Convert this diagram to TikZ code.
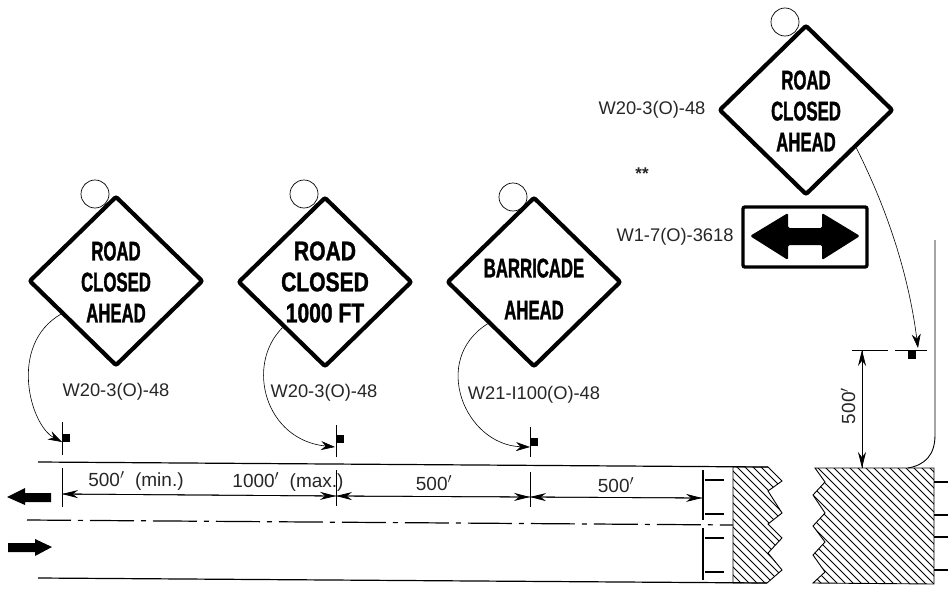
\documentclass[tikz,border=0pt]{standalone}
\usepackage{fontspec}
\usepackage{tikz}
\usetikzlibrary{arrows.meta,shapes.geometric}
\setmainfont{Liberation Sans}
\newfontfamily\signfont[FakeStretch=0.62,FakeBold=1.2]{Liberation Sans}
\newfontfamily\wideroadfont[FakeStretch=0.78,FakeBold=1.2]{Liberation Sans}
\tikzset{
  signbox/.style={diamond, draw=black, fill=white, line width=4.2pt, rounded corners=2pt, inner sep=0pt,
    minimum width=174pt, minimum height=170pt},
  hookcircle/.style={circle, draw=black, line width=0.7pt, inner sep=0pt, minimum size=28pt},
  signtext/.style={align=center, font=\signfont\bfseries\fontsize{27}{31}\selectfont, inner sep=0pt},
  codelabel/.style={font=\fontsize{18.3}{20}\selectfont, inner sep=0pt, text=black!85},
  dimlabel/.style={font=\fontsize{19}{20}\selectfont, inner sep=0pt, text=black!85},
  postbox/.style={rectangle, fill=black, inner sep=0pt, minimum size=8.5pt},
  pointer/.style={line width=0.6pt, -{Stealth[length=14pt,width=9pt]}},
  dimline/.style={line width=0.8pt, -{Stealth[length=16pt,width=8pt]}},
  tickline/.style={line width=0.8pt},
  roadline/.style={line width=1.2pt}
}
\begin{document}
\begin{tikzpicture}[x=1pt, y=-1pt]
    \useasboundingbox (0,0) rectangle (948,589);
    % Hook circles
    \node[hookcircle] (hook1) at (95,194) {};
    \node[hookcircle] (hook2) at (304,194) {};
    \node[hookcircle] (hook3) at (513,197) {};
    \node[hookcircle] (hook4) at (785,22) {};
    % Signs
    \node[signbox] (sign1) at (116,281) {};
    \node[signbox] (sign2) at (325,282) {};
    \node[signbox] (sign3) at (534,282) {};
    \node[signbox] (sign4) at (806,110) {};
    \node[signtext] (text1) at (116,282) {ROAD\\CLOSED\\AHEAD};
    \node[signtext, font=\wideroadfont\bfseries\fontsize{27}{31}\selectfont] (text2) at (325,282) {ROAD\\CLOSED\\1000 FT};
    \node[signtext, font=\signfont\bfseries\fontsize{27}{42}\selectfont] (text3) at (534,289) {BARRICADE\\AHEAD};
    \node[signtext] (text4) at (806,111) {ROAD\\CLOSED\\AHEAD};
    % Arrow plate
    \node[draw=black, line width=3.4pt, rounded corners=2pt, minimum width=124pt, minimum height=60pt, inner sep=0pt] (plate) at (805,237) {};
    \fill[rounded corners=1.5pt] (750,236) -- (788,213) -- (788,228) -- (822,228) -- (822,213) -- (860,236)
      -- (822,260) -- (822,245) -- (788,245) -- (788,260) -- cycle;
    % Code labels
    \node[codelabel] (code1) at (116,392) {W20-3(O)-48};
    \node[codelabel] (code2) at (324,393) {W20-3(O)-48};
    \node[codelabel] (code3) at (534,395) {W21-I100(O)-48};
    \node[codelabel] (code4) at (652,110) {W20-3(O)-48};
    \node[codelabel] (code5) at (675,237) {W1-7(O)-3618};
    \node[codelabel, font=\bfseries\fontsize{17}{20}\selectfont] (stars) at (642,174) {**};
    % Posts
    \node[postbox] (post1) at (66,438) {};
    \node[postbox] (post2) at (340,439) {};
    \node[postbox] (post3) at (534,442) {};
    \node[postbox] (post4) at (912,355) {};
    \coordinate (tip1) at (62,442);
    \coordinate (tip2) at (335,447);
    \coordinate (tip3) at (530,447);
    \coordinate (tip4) at (918,348);
    \draw[pointer] (sign1.211) .. controls (8,345) and (30,425) .. (tip1);
    \draw[pointer] (sign2.227) .. controls (245,365) and (265,440) .. (tip2);
    \draw[pointer] (sign3.222) .. controls (430,360) and (465,445) .. (tip3);
    \draw[pointer] (sign4.323) .. controls (885,205) and (908,270) .. (tip4);
    % Road
    \draw[roadline] (38,462) -- (768,467);
    \draw[roadline] (38,578) -- (767,583);
    \draw[roadline, dash pattern=on 44pt off 7pt on 5pt off 7pt] (27,520) -- (733,525);
    \fill (7,497) -- (25,488) -- (25,493) -- (51,493) -- (51,502) -- (25,502) -- (25,505) -- cycle;
    \fill (52,547) -- (35,539) -- (35,543) -- (8,543) -- (8,552) -- (35,552) -- (35,556) -- cycle;
    % Ticks
    \draw[tickline] (62,422) -- (62,455);
    \draw[tickline] (62,468) -- (62,507);
    \draw[tickline] (336,425) -- (336,457);
    \draw[tickline] (336,470) -- (336,506);
    \draw[tickline] (530,427) -- (530,457);
    \draw[tickline] (530,472) -- (530,507);
    % Dimensions
    \coordinate (dima) at (62,494);
    \coordinate (dimb) at (336,496);
    \coordinate (dimc) at (530,497);
    \coordinate (dimd) at (702,498);
    \draw[dimline] (dimb) -- (dima);
    \draw[dimline] (dima) -- (dimb);
    \draw[dimline] (dimc) -- (dimb);
    \draw[dimline] (dimb) -- (dimc);
    \draw[dimline] (dimd) -- (dimc);
    \draw[dimline] (dimc) -- (dimd);
    \node[dimlabel] (dim1) at (136,481) {500$'$\ \ (min.)};
    \node[dimlabel] (dim2) at (288,482) {1000$'$\ \ (max.)};
    \node[dimlabel] (dim3) at (434,483) {500$'$};
    \node[dimlabel] (dim4) at (616,485) {500$'$};
    % Barricade
    \draw[line width=2.8pt] (703,470) -- (703,520);
    \draw[line width=2.8pt] (703,528) -- (703,580);
    \foreach \yi in {480,514,538,572}
      \draw[line width=1.2pt] (705,\yi) -- (724,\yi);
    % Hatched blocks
    \begin{scope}
      \clip (733,467) -- (768,467) -- (782,481) -- (768,491) -- (782,513) -- (768,524) -- (782,538) -- (768,553) -- (782,570) -- (767,583) -- (733,583) -- cycle;
      \foreach \xi in {610,618,...,790}
        \draw[line width=0.9pt] (\xi,460) -- (\xi+130,590);
    \end{scope}
    \draw[line width=0.9pt] (733,467) -- (768,467) -- (782,481) -- (768,491) -- (782,513) -- (768,524) -- (782,538) -- (768,553) -- (782,570) -- (767,583) -- (733,583) -- cycle;
    \begin{scope}
      \clip (815,468) -- (934,468) -- (934,584) -- (813,583) -- (825,572) -- (813,555) -- (825,542) -- (813,526) -- (825,513) -- (813,495) -- (825,482) -- cycle;
      \foreach \xi in {690,698,...,940}
        \draw[line width=0.9pt] (\xi,460) -- (\xi+130,590);
    \end{scope}
    \draw[line width=0.9pt] (815,468) -- (934,468) -- (934,584) -- (813,583) -- (825,572) -- (813,555) -- (825,542) -- (813,526) -- (825,513) -- (813,495) -- (825,482) -- cycle;
    \foreach \yi in {482,515,537,570}
      \draw[line width=1.2pt] (934,\yi) -- (948,\yi);
    % Side road
    \draw[line width=0.9pt] (935,240) -- (935,435) .. controls (935,455) and (925,465) .. (908,468);
    % Vertical dimension
    \coordinate (dimtop) at (862,350);
    \coordinate (dimbot) at (862,468);
    \draw[tickline] (852,350) -- (888,350);
    \draw[tickline] (895,350) -- (927,350);
    \draw[dimline] (dimbot) -- (dimtop);
    \draw[dimline] (dimtop) -- (dimbot);
    \node[dimlabel, rotate=90] (dim5) at (848,406) {500$'$};
\end{tikzpicture}
\end{document}
